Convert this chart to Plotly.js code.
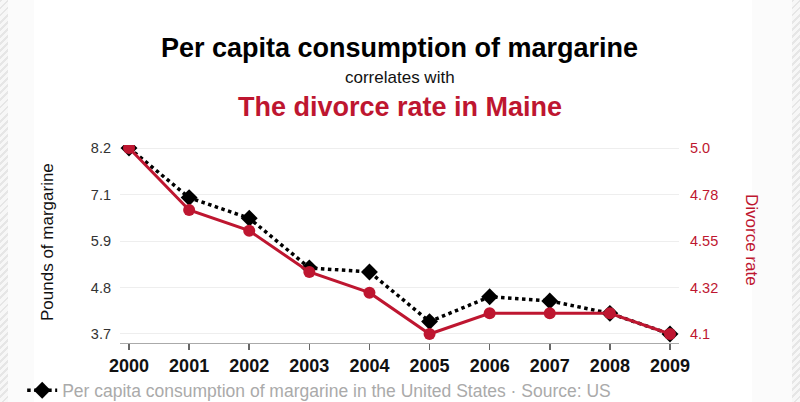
<!DOCTYPE html>
<html>
<head>
<meta charset="utf-8">
<script src="https://cdn.plot.ly/plotly-3.0.1.min.js"></script>
<style>
  html, body { margin: 0; padding: 0; width: 800px; height: 402px; overflow: hidden; background: #ffffff; }
  #wrap { position: relative; width: 800px; height: 402px;
    background:
      repeating-linear-gradient(135deg, #e6e6e6 0 2px, #f7f7f7 2px 5px) left top / 8px 100% no-repeat,
      repeating-linear-gradient(135deg, #e6e6e6 0 2px, #f7f7f7 2px 5px) right top / 8px 100% no-repeat,
      linear-gradient(#fbfbfb, #fbfbfb) 8px 0 / 26px 100% no-repeat,
      linear-gradient(#fbfbfb, #fbfbfb) right 8px top 0 / 40px 100% no-repeat,
      #ffffff; }
  #chart { position: absolute; left: 0; top: 0; width: 800px; height: 402px; }
</style>
</head>
<body>
<div id="wrap"><div id="chart"></div></div>
<script>
const years = [2000, 2001, 2002, 2003, 2004, 2005, 2006, 2007, 2008, 2009];
const margarine = [8.2, 7.0, 6.5, 5.3, 5.2, 4.0, 4.6, 4.5, 4.2, 3.7];
const divorce = [5.0, 4.7, 4.6, 4.4, 4.3, 4.1, 4.2, 4.2, 4.2, 4.1];
const leftTickVals = [3.7, 4.825, 5.95, 7.075, 8.2];
const leftTickText = ['3.7', '4.8', '5.9', '7.1', '8.2'];
const rightTickVals = [4.1, 4.325, 4.55, 4.775, 5.0];
const rightTickText = ['4.1', '4.32', '4.55', '4.78', '5.0'];

const RED = '#be1630';
const FONT = 'Liberation Sans, Arial, Helvetica, sans-serif';

const traces = [
  {
    x: years, y: divorce, yaxis: 'y2', type: 'scatter', mode: 'lines+markers',
    name: 'The divorce rate in Maine',
    line: { color: RED, width: 3 },
    marker: { color: RED, size: 12, symbol: 'circle' },
    showlegend: false, hoverinfo: 'skip'
  },
  {
    x: years, y: margarine, yaxis: 'y', type: 'scatter', mode: 'lines+markers',
    name: 'Per capita consumption of margarine in the United States · Source: US',
    line: { color: '#000000', width: 3.5, dash: 'dot' },
    marker: { color: '#000000', size: 13, symbol: 'diamond' },
    showlegend: true, hoverinfo: 'skip'
  }
];

const layout = {
  width: 800, height: 402,
  paper_bgcolor: 'rgba(0,0,0,0)', plot_bgcolor: 'rgba(0,0,0,0)',
  margin: { l: 120, r: 121, t: 145, b: 59, autoexpand: false },
  font: { family: FONT, color: '#222' },
  showlegend: true,
  legend: {
    orientation: 'h', x: -0.175, xanchor: 'left', y: -0.148, yanchor: 'top',
    font: { family: FONT, size: 17.5, color: '#aaaaaa' },
    bgcolor: 'rgba(0,0,0,0)', borderwidth: 0
  },
  xaxis: {
    range: [1999.85, 2009.15],
    tickvals: years, ticktext: years.map(String),
    showgrid: false, zeroline: false,
    showline: true, linecolor: '#aaaaaa', linewidth: 1,
    ticks: 'outside', ticklen: 6, tickcolor: '#666666', tickwidth: 1.5,
    tickfont: { family: FONT, size: 18, color: '#111111', weight: 'bold' },
    fixedrange: true
  },
  yaxis: {
    range: [3.482, 8.273],
    tickvals: leftTickVals, ticktext: leftTickText,
    showgrid: true, gridcolor: '#eeeeee', gridwidth: 1,
    zeroline: false, showline: false, ticks: '',
    ticklabelstandoff: 8,
    tickfont: { family: FONT, size: 14.5, color: '#333333' },
    fixedrange: true
  },
  yaxis2: {
    overlaying: 'y', side: 'right',
    range: [4.0565, 5.0145],
    tickvals: rightTickVals, ticktext: rightTickText,
    showgrid: false, zeroline: false, showline: false, ticks: '',
    ticklabelstandoff: 10,
    tickfont: { family: FONT, size: 14.5, color: RED },
    fixedrange: true
  },
  annotations: [
    { text: '<b>Per capita consumption of margarine</b>', xref: 'paper', yref: 'paper',
      x: 0.5, xanchor: 'center', y: (343 - 48) / 198, yanchor: 'middle', showarrow: false,
      font: { family: FONT, size: 27, color: '#000000' } },
    { text: 'correlates with', xref: 'paper', yref: 'paper',
      x: 0.5, xanchor: 'center', y: (343 - 78) / 198, yanchor: 'middle', showarrow: false,
      font: { family: FONT, size: 17, color: '#111111' } },
    { text: '<b>The divorce rate in Maine</b>', xref: 'paper', yref: 'paper',
      x: 0.5, xanchor: 'center', y: (343 - 107) / 198, yanchor: 'middle', showarrow: false,
      font: { family: FONT, size: 27, color: RED } },
    { text: 'Pounds of margarine', xref: 'paper', yref: 'paper',
      x: (47 - 120) / 559, xanchor: 'center', y: (343 - 242) / 198, yanchor: 'middle',
      textangle: -90, showarrow: false,
      font: { family: FONT, size: 17, color: '#111111' } },
    { text: 'Divorce rate', xref: 'paper', yref: 'paper',
      x: (752 - 120) / 559, xanchor: 'center', y: (343 - 240) / 198, yanchor: 'middle',
      textangle: 90, showarrow: false,
      font: { family: FONT, size: 17, color: RED } }
  ]
};

Plotly.newPlot('chart', traces, layout, { displayModeBar: false, staticPlot: true });
</script>
</body>
</html>
